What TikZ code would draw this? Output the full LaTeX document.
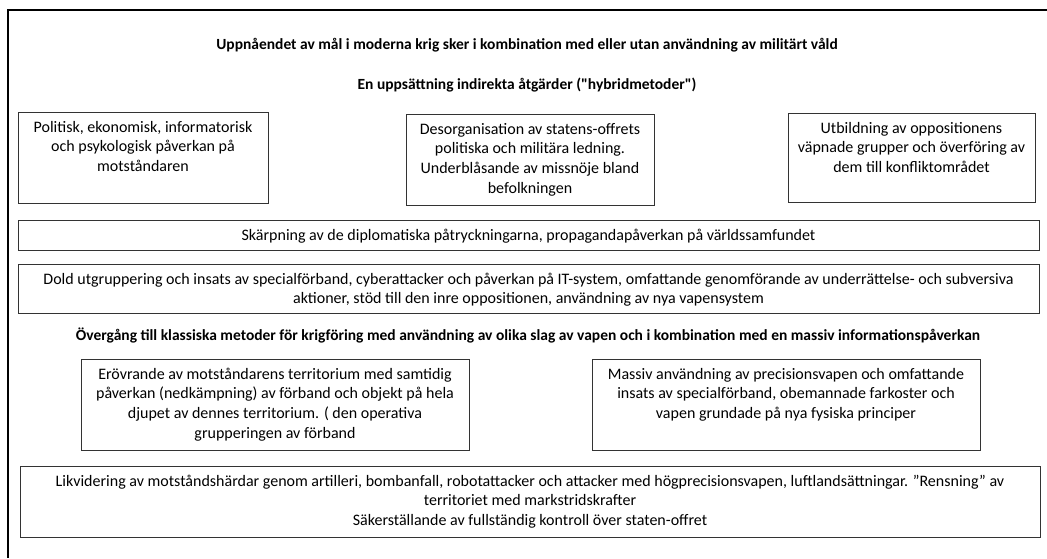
\documentclass[tikz,border=0pt]{standalone}
\usepackage{fontspec}
\setmainfont{Carlito}[Ligatures=TeXOff]
\usepackage{tikz}

% Texto de caja, alineado arriba
\newcommand{\cajatexto}[3]{\begin{minipage}[c][#2pt][t]{#1pt}\centering\rule{0pt}{20pt}#3\end{minipage}}

\begin{document}
\begin{tikzpicture}[x=1pt, y=-1pt,
    caja/.style={draw=black!80, line width=0.8pt, inner sep=0pt, font=\fontsize{16}{19.8}\selectfont},
    titulo/.style={anchor=base, inner sep=0pt, font=\fontsize{15.5}{19}\selectfont\bfseries}]
            \useasboundingbox (0,0) rectangle (1047,558);
            % Marco
            \draw[line width=2.6pt] (1047,10) -- (8,10) -- (8,558);
            % Titulos
            \node[titulo] (meta) at (527,49) {Uppnåendet av mål i moderna krig sker i kombination med eller utan användning av militärt våld};
            \node[titulo] (hybrid) at (527,89) {En uppsättning indirekta åtgärder ("hybridmetoder")};
            % Cajas superiores
            \node[caja] (politisk) at (143,157.5) {\cajatexto{250}{91}{Politisk, ekonomisk, informatorisk\\och psykologisk påverkan på\\motståndaren}};
            \node[caja] (desorg) at (530,159.5) {\cajatexto{248}{91}{Desorganisation av statens-offrets\\politiska och militära ledning.\\Underblåsande av missnöje bland\\befolkningen}};
            \node[caja] (utbildning) at (911.5,157.5) {\cajatexto{247}{89}{Utbildning av oppositionens\\väpnade grupper och överföring av\\dem till konfliktområdet}};
            \node[caja] (skarpning) at (528.5,235) {\cajatexto{1021}{30}{Skärpning av de diplomatiska påtryckningarna, propagandapåverkan på världssamfundet}};
            \node[caja] (dold) at (528.5,288.5) {\cajatexto{1021}{49}{Dold utgruppering och insats av specialförband, cyberattacker och påverkan på IT-system, omfattande genomförande av underrättelse- och subversiva\\aktioner, stöd till den inre oppositionen, användning av nya vapensystem}};
            \node[titulo] (klassisk) at (528,340) {Övergång till klassiska metoder för krigföring med användning av olika slag av vapen och i kombination med en massiv informationspåverkan};
            % Cajas inferiores
            \node[caja] (erovrande) at (275,404.5) {\cajatexto{388}{91}{Erövrande av motståndarens territorium med samtidig\\påverkan (nedkämpning) av förband och objekt på hela\\djupet av dennes territorium. ( den operativa\\grupperingen av förband}};
            \node[caja] (massiv) at (786,404.5) {\cajatexto{388}{91}{Massiv användning av precisionsvapen och omfattande\\insats av specialförband, obemannade farkoster och\\vapen grundade på nya fysiska principer}};
            \node[caja] (likvidering) at (530,501.5) {\cajatexto{1020}{71}{Likvidering av motståndshärdar genom artilleri, bombanfall, robotattacker och attacker med högprecisionsvapen, luftlandsättningar. ”Rensning” av\\territoriet med markstridskrafter\\Säkerställande av fullständig kontroll över staten-offret}};
       \end{tikzpicture}
\end{document}
